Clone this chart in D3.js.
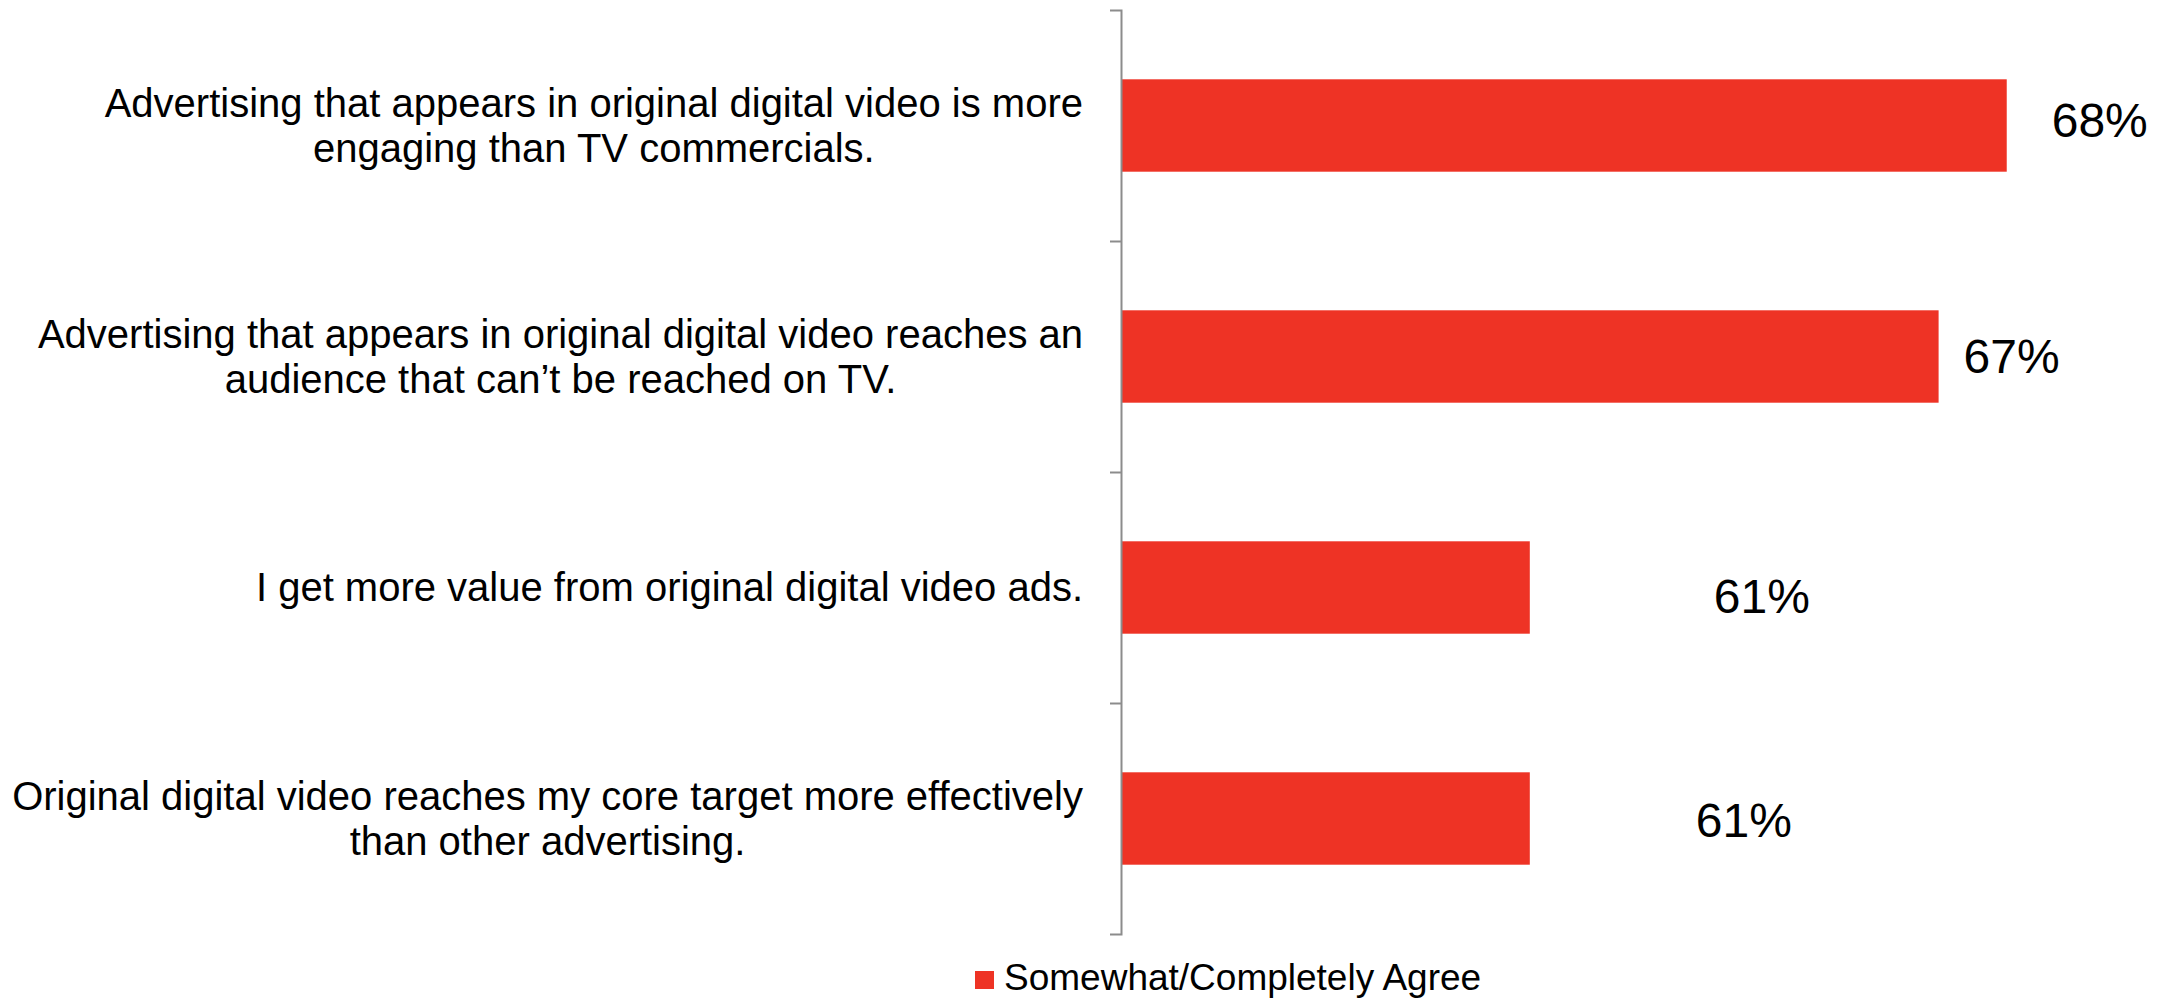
<!DOCTYPE html>
<html>
<head>
<meta charset="utf-8">
<script src="https://cdn.jsdelivr.net/npm/d3@7"></script>
<style>
  html, body { margin: 0; padding: 0; background: #fff; }
  svg { display: block; font-family: "Liberation Sans", Arial, sans-serif; }
</style>
</head>
<body>
<svg id="chart" width="2164" height="1000"></svg>
<script>
// Survey statements (each entry is a list of wrapped lines)
const statements = [
  ["Advertising that appears in original digital video is more", "engaging than TV commercials."],
  ["Advertising that appears in original digital video reaches an", "audience that can\u2019t be reached on TV."],
  ["I get more value from original digital video ads."],
  ["Original digital video reaches my core target more effectively", "than other advertising."]
];
// Share of respondents who somewhat/completely agree (%)
const agreeShare = [68, 67, 61, 61];
const seriesName = "Somewhat/Completely Agree";
// Hand-placed offsets of the value labels from the bar end / band centre
const labelDx = [93, 73, 232, 214];
const labelDy = [11, 16.5, 25.5, 18.5];

const svg = d3.select("#chart");
const barColor = "#EE3325";
const axisColor = "#8C8C8C";

const plotLeft = 1121, plotRight = 2143, plotTop = 10, plotBottom = 934;

const x = d3.scaleLinear().domain([55, 70]).range([plotLeft, plotRight]);
const y = d3.scaleBand()
  .domain(d3.range(statements.length))
  .range([plotTop, plotBottom])
  .paddingInner(0.6)
  .paddingOuter(0.3);

// Bars start at the axis (domain minimum)
const xMin = x.domain()[0];
svg.append("g").selectAll("rect")
  .data(agreeShare)
  .join("rect")
  .attr("x", x(xMin))
  .attr("y", (d, i) => y(i))
  .attr("width", d => x(d) - x(xMin))
  .attr("height", y.bandwidth())
  .attr("fill", barColor);

// Category axis: ticks sit on the boundaries between categories
const boundary = d3.scaleLinear().domain([0, statements.length]).range([plotTop, plotBottom]);
const axis = svg.append("g")
  .attr("transform", `translate(${plotLeft},0)`)
  .call(d3.axisLeft(boundary).tickValues(d3.range(1, statements.length)).tickSize(11).tickSizeOuter(11).tickFormat(""));
axis.select(".domain").attr("stroke", axisColor).attr("stroke-width", 2);
axis.selectAll(".tick line").attr("stroke", axisColor).attr("stroke-width", 2);

// Category labels: lines centred within a block right-aligned near the axis
const labelRight = 1083, fontSize = 40, lineGap = 45;
statements.forEach((lines, i) => {
  const cy = y(i) + y.bandwidth() / 2;
  const g = svg.append("g");
  const texts = g.selectAll("text")
    .data(lines)
    .join("text")
    .attr("font-size", fontSize)
    .attr("fill", "#000")
    .attr("text-anchor", "middle")
    .text(d => d);
  let maxW = 0;
  texts.each(function() { maxW = Math.max(maxW, this.getComputedTextLength()); });
  const firstBase = lines.length === 1 ? cy + 13 : cy - 9;
  texts.attr("x", labelRight - maxW / 2)
    .attr("y", (d, k) => firstBase + k * lineGap);
});

// Value labels
svg.append("g").selectAll("text")
  .data(agreeShare)
  .join("text")
  .attr("x", (d, i) => x(d) + labelDx[i])
  .attr("y", (d, i) => y(i) + y.bandwidth() / 2 + labelDy[i])
  .attr("text-anchor", "middle")
  .attr("font-size", 48)
  .attr("fill", "#000")
  .text(d => d + "%");

// Legend
const legend = svg.append("g");
legend.append("rect")
  .attr("x", 975).attr("y", 971)
  .attr("width", 19).attr("height", 18)
  .attr("fill", barColor);
legend.append("text")
  .attr("x", 1004).attr("y", 990)
  .attr("font-size", 37)
  .attr("fill", "#000")
  .text(seriesName);
</script>
</body>
</html>
